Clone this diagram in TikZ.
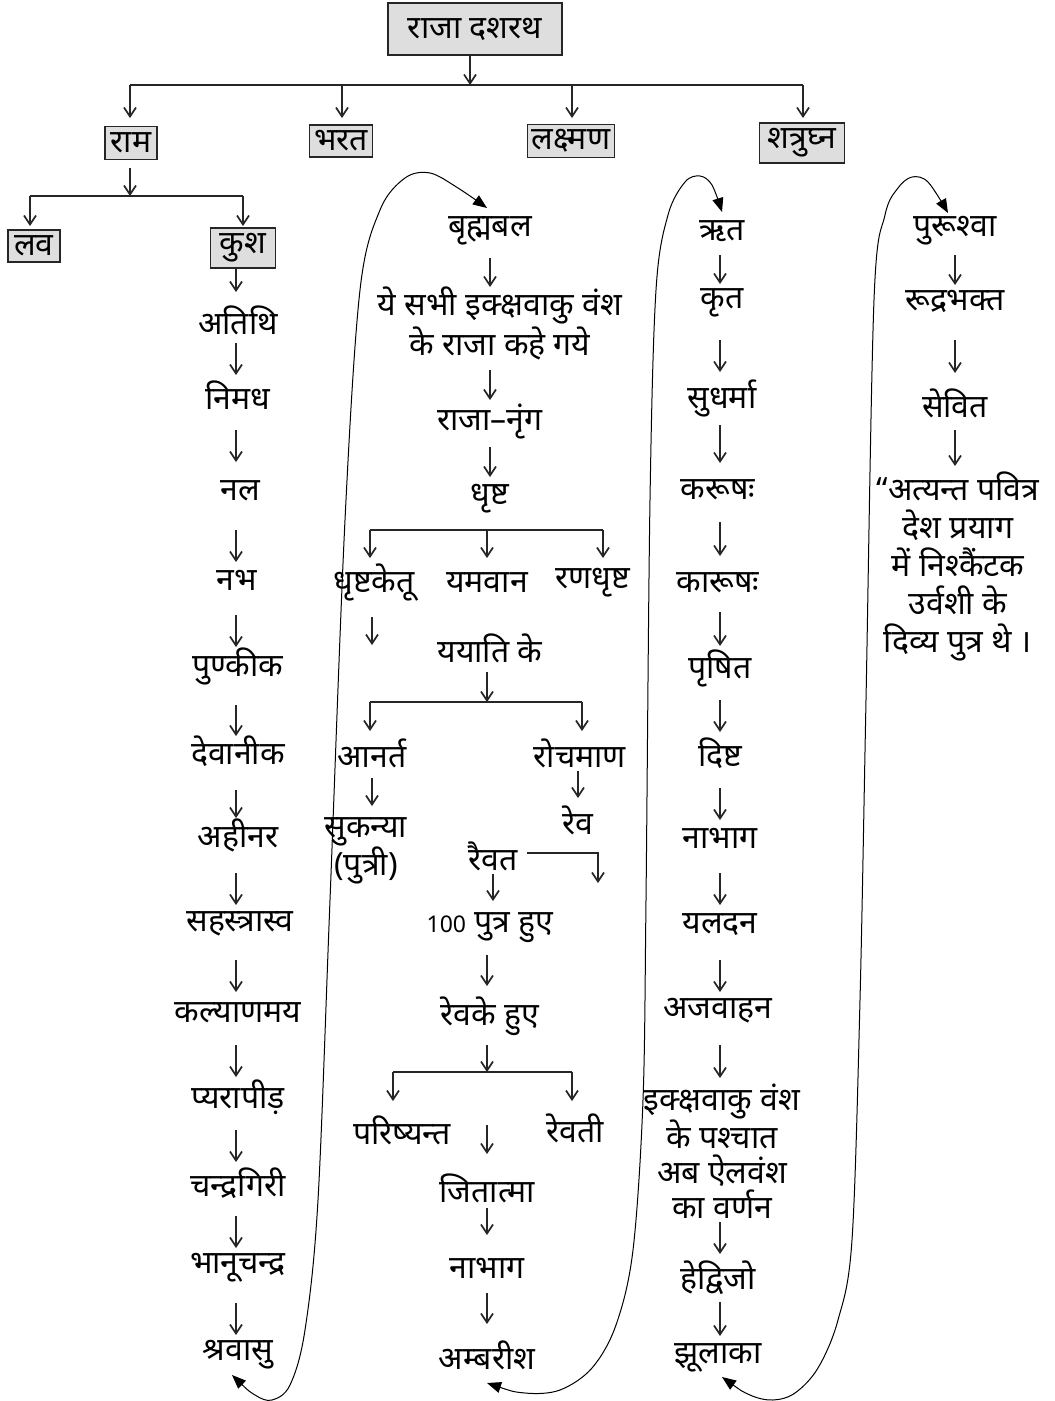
\documentclass[tikz,border=0pt]{standalone}
\usepackage{fontspec}
\newfontfamily\dev[Script=Devanagari]{Noto Sans}
\usetikzlibrary{arrows.meta}
\newcommand\darr[4]{\draw[barr] (#1 |- 0,#3) -- (#2 |- 0,#4);}
\begin{document}
\begin{tikzpicture}[x=1pt,y=-1pt,
 t/.style={font=\dev\fontsize{32}{38}\selectfont, inner sep=1pt, align=center, yshift=-3pt},
 gb/.style={font=\dev\fontsize{32}{38}\selectfont, align=center, draw=black!85, fill=black!13, line width=1.4pt, inner xsep=2pt, inner ysep=0pt},
 barr/.style={-{Straight Barb[length=9pt,width=12pt]}, line width=1.7pt, draw=black!85},
 bar/.style={line width=2.6pt, draw=black!85},
 lp/.style={{Triangle[length=14pt,width=11pt]}-{Triangle[length=14pt,width=11pt]}, line width=1pt}
]
\useasboundingbox (0,0) rectangle (1055,1401);

% top
\node[gb, minimum width=174pt, minimum height=52pt] (dasharath) at (475,29) {राजा दशरथ};
\coordinate (j0) at (470,85);
\draw[barr] (dasharath.south -| j0) -- (j0);
\draw[bar] (130,85) -- (803,85);
\node[gb, minimum width=52pt, minimum height=33pt] (ram) at (131,143) {राम};
\node[gb, minimum width=63pt, minimum height=32pt] (bharat) at (341,141) {भरत};
\node[gb, minimum width=87pt, minimum height=33pt] (lakshman) at (571,141) {लक्ष्मण};
\node[gb, minimum width=85pt, minimum height=40pt] (shatru) at (802,143) {शत्रुघ्न};
\foreach \x in {130,342,572,803}
  \draw[barr] (\x,85) -- (\x,118);

% Ram's sons
\coordinate (j1) at (130,196);
\draw[barr] (130,168) -- (j1);
\draw[bar] (30,196) -- (243,196);
\node[gb, minimum width=52pt, minimum height=32pt] (lav) at (34,246) {लव};
\node[gb, minimum width=65pt, minimum height=40pt] (kush) at (243,248) {कुश};
\draw[barr] (30,196) -- (30,226);
\draw[barr] (243,196) -- (243,226);

% left column
\node[t] (c1a) at (238,317) {अतिथि};
\node[t] (c1b) at (238,392) {निमध};
\node[t] (c1c) at (240,488) {नल};
\node[t] (c1d) at (237,577) {नभ};
\node[t] (c1e) at (238,663) {पुण्कीक};
\node[t] (c1f) at (238,748) {देवानीक};
\node[t] (c1g) at (238,832) {अहीनर};
\node[t] (c1h) at (240,921) {सहस्त्रास्व};
\node[t] (c1i) at (238,1010) {कल्याणमय};
\node[t] (c1j) at (238,1094) {प्यरापीड़};
\node[t] (c1k) at (238,1180) {चन्द्रगिरी};
\node[t] (c1l) at (238,1265) {भानूचन्द्र};
\node[t] (c1m) at (238,1352) {श्रवासु};
\coordinate (cx) at (236,0);
\draw[barr] (kush.south -| cx) -- (cx |- 0,292);
\darr{cx}{cx}{343}{375}
\darr{cx}{cx}{430}{462}
\darr{cx}{cx}{530}{562}
\darr{cx}{cx}{615}{647}
\darr{cx}{cx}{705}{736}
\darr{cx}{cx}{790}{818}
\darr{cx}{cx}{873}{905}
\darr{cx}{cx}{960}{992}
\darr{cx}{cx}{1045}{1077}
\darr{cx}{cx}{1130}{1162}
\darr{cx}{cx}{1216}{1248}
\darr{cx}{cx}{1303}{1335}

% middle column
\node[t] (m1) at (490,228) {बृह्मबल};
\node[t, font=\dev\fontsize{32}{40}\selectfont] (m2) at (500,320) {ये सभी इक्क्षवाकु वंश\\के राजा कहे गये};
\node[t] (m3) at (490,418) {राजा–नृंग};
\node[t] (m4) at (490,496) {धृष्ट};
\darr{m1}{m1}{258}{287}
\darr{m3}{m3}{370}{400}
\darr{m4}{m4}{447}{477}
\draw[bar] (370,530) -- (603,530);
\node[t] (m5a) at (374,580) {धृष्टकेतू};
\node[t] (m5b) at (487,580) {यमवान};
\node[t] (m5c) at (593,580) {रणधृष्ट};
\draw[barr] (370,530) -- (370,558);
\draw[barr] (487,530) -- (487,558);
\draw[barr] (603,530) -- (603,558);
\coordinate (m5d) at (372,645);
\draw[barr] (372,617) -- (m5d);
\node[t] (m6) at (490,645) {ययाति के};
\coordinate (j2) at (487,702);
\draw[barr] (487,672) -- (j2);
\draw[bar] (370,702) -- (582,702);
\node[t] (m7a) at (372,750) {आनर्त};
\node[t] (m7b) at (580,750) {रोचमाण};
\draw[barr] (370,702) -- (370,731);
\draw[barr] (582,702) -- (582,731);
\node[t, font=\dev\fontsize{32}{32}\selectfont] (m8a) at (366,848) {सुकन्या\\(पुत्री)};
\darr{m7a}{m7a}{778}{806}
\node[t] (m8b) at (578,817) {रेव};
\darr{m8b}{m8b}{771}{798}
\node[t] (m9) at (493,853) {रैवत};
\draw[barr] (527,853) -- (598,853) -- (598,883);
\node[t] (m10) at (490,925) {{\fontsize{23}{23}\selectfont 100} पुत्र हुए};
\darr{m9}{m9}{874}{901}
\node[t] (m11) at (490,1013) {रेवके हुए};
\coordinate (mx) at (487,0);
\darr{mx}{mx}{955}{986}
\coordinate (j3) at (487,1072);
\draw[barr] (487,1045) -- (j3);
\draw[bar] (393,1072) -- (572,1072);
\node[t] (m12a) at (402,1127) {परिष्यन्त};
\node[t] (m12b) at (575,1125) {रेवती};
\draw[barr] (393,1072) -- (393,1101);
\draw[barr] (572,1072) -- (572,1101);
\node[t] (m13) at (487,1185) {जितात्मा};
\node[t] (m14) at (487,1265) {नाभाग};
\node[t] (m15) at (487,1352) {अम्बरीश};
\darr{mx}{m13}{1125}{1154}
\darr{m13}{m14}{1208}{1235}
\darr{m14}{m15}{1293}{1324}

% third column
\node[t] (r1) at (722,228) {ऋत};
\node[t] (r2) at (722,300) {कृत};
\node[t] (r3) at (722,395) {सुधर्मा};
\node[t] (r4) at (718,487) {करूषः};
\node[t] (r5) at (718,580) {कारूषः};
\node[t] (r6) at (720,665) {पृषित};
\node[t] (r7) at (720,750) {दिष्ट};
\node[t] (r8) at (720,835) {नाभाग};
\node[t] (r9) at (720,922) {यलदन};
\node[t] (r10) at (718,1008) {अजवाहन};
\node[t, font=\dev\fontsize{32}{35}\selectfont] (r11) at (722,1148) {इक्क्षवाकु वंश\\के पश्चात\\अब ऐलवंश\\का वर्णन};
\node[t] (r12) at (718,1275) {हेद्विजो};
\node[t] (r13) at (718,1355) {झूलाका};
\coordinate (rx) at (720,0);
\darr{rx}{rx}{255}{284}
\darr{rx}{rx}{340}{372}
\darr{rx}{rx}{425}{463}
\darr{rx}{rx}{522}{556}
\darr{rx}{rx}{612}{646}
\darr{rx}{rx}{700}{732}
\darr{rx}{rx}{788}{820}
\darr{rx}{rx}{873}{905}
\darr{rx}{rx}{960}{992}
\darr{rx}{rx}{1045}{1078}
\darr{rx}{rx}{1222}{1254}
\darr{rx}{rx}{1302}{1336}

% fourth column
\node[t] (s1) at (955,228) {पुरूश्वा};
\node[t] (s2) at (955,298) {रूद्रभक्त};
\node[t] (s3) at (955,400) {सेवित};
\node[t, font=\dev\fontsize{32}{38}\selectfont] (s4) at (958,563) {“अत्यन्त पवित्र\\देश प्रयाग\\में निश्कैंटक\\उर्वशी के\\दिव्य पुत्र थे ।};
\coordinate (sx) at (955,0);
\darr{sx}{sx}{255}{285}
\darr{sx}{sx}{340}{373}
\darr{sx}{sx}{430}{466}

% loops
\draw[lp] plot[smooth, tension=0.55] coordinates {(232,1375) (255,1395) (272,1400) (290,1385) (305,1330) (318,1200) (330,900) (345,520) (360,290) (380,210) (405,178) (430,173) (458,188) (487,208)};
\draw[lp] plot[smooth, tension=0.55] coordinates {(487,1383) (525,1393) (560,1390) (592,1368) (616,1325) (633,1250) (643,1100) (646,900) (650,500) (656,290) (668,215) (685,182) (700,176) (712,185) (722,212)};
\draw[lp] plot[smooth, tension=0.55] coordinates {(722,1377) (750,1395) (773,1400) (795,1393) (818,1368) (838,1320) (852,1240) (860,1000) (866,700) (874,300) (885,215) (898,188) (912,177) (928,182) (948,213)};
\end{tikzpicture}
\end{document}
